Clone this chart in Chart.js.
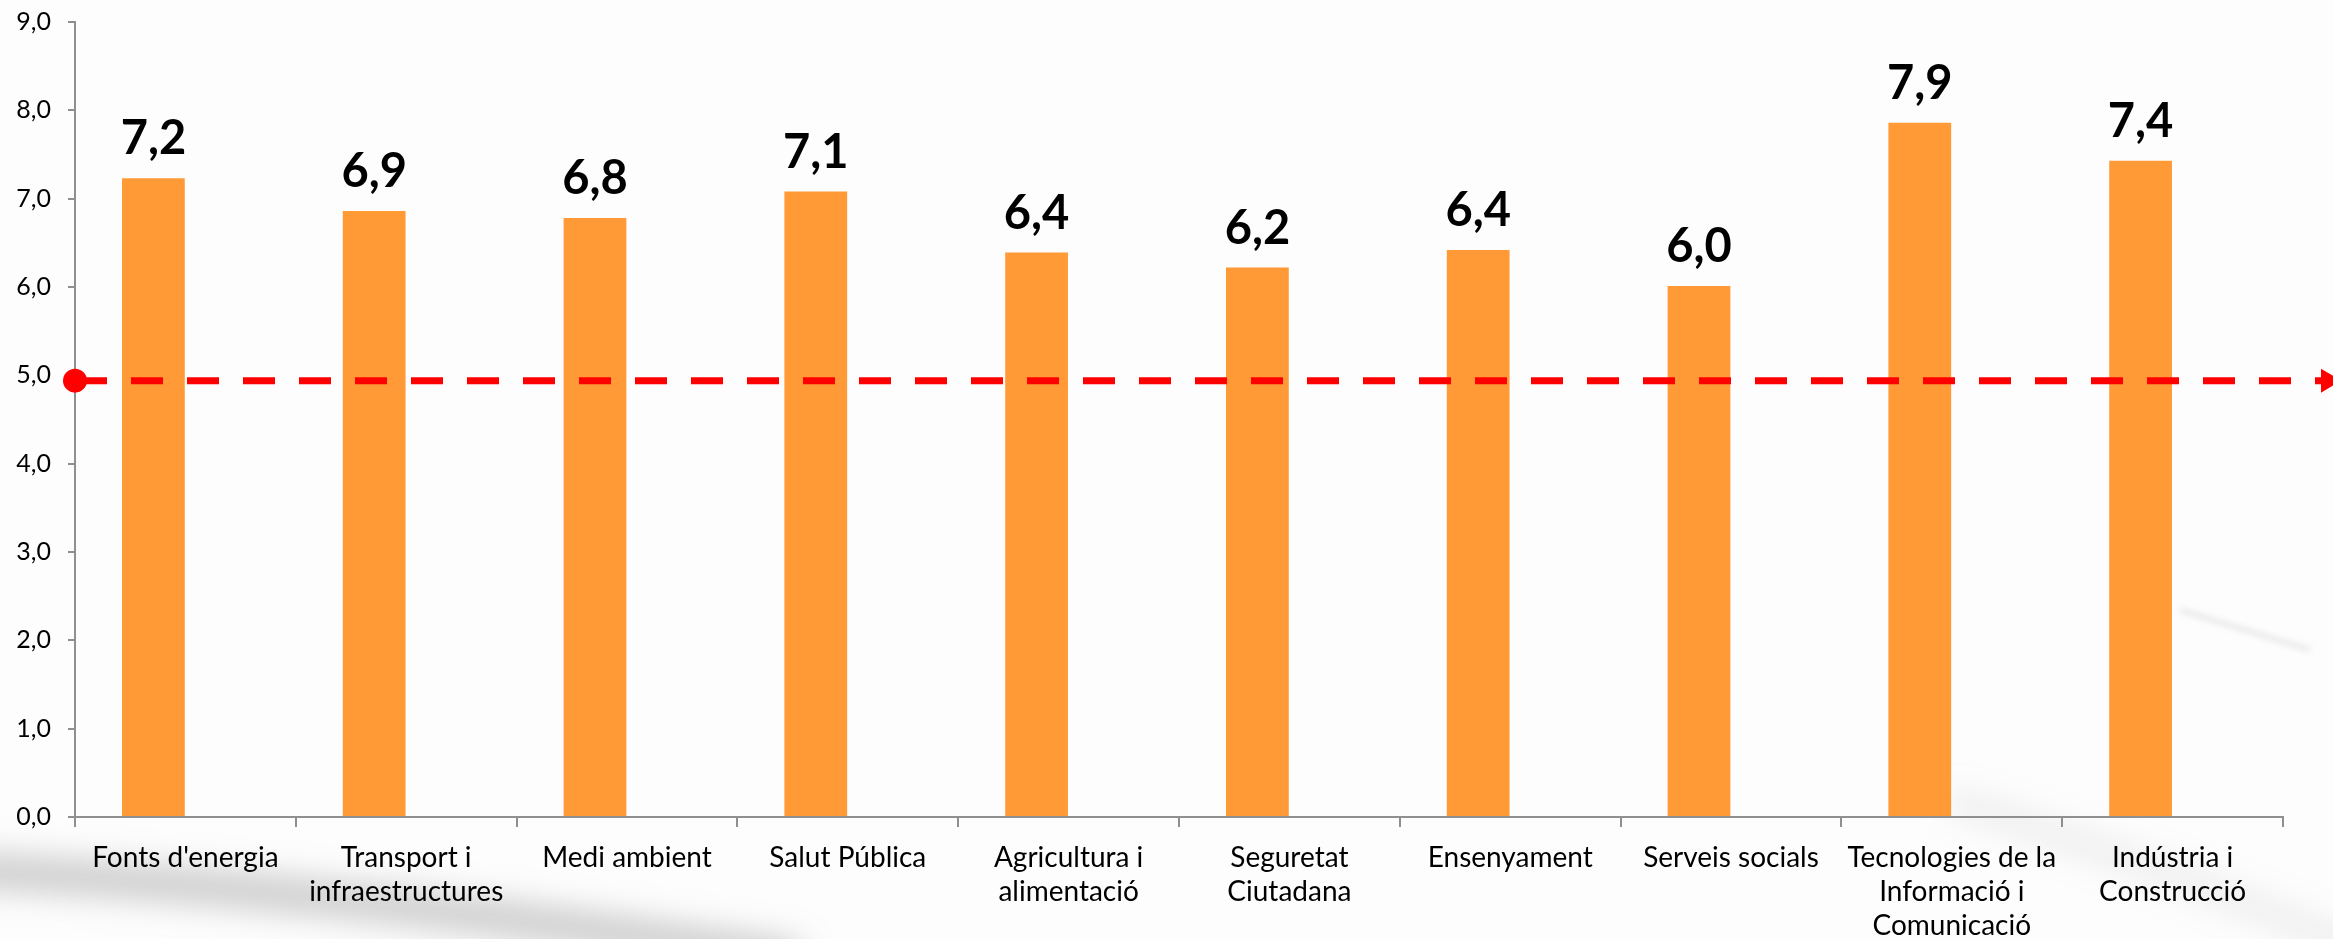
<!DOCTYPE html>
<html><head><meta charset="utf-8">
<script src="https://cdn.jsdelivr.net/npm/chart.js@4/dist/chart.umd.min.js"></script>
<style>html,body{margin:0;padding:0;background:#fff;overflow:hidden}canvas{display:block}</style>
</head><body>
<canvas id="c" width="2333" height="939"></canvas>
<script>
const categories = [
  ["Fonts d'energia"],
  ["Transport i", "infraestructures"],
  ["Medi ambient"],
  ["Salut Pública"],
  ["Agricultura i", "alimentació"],
  ["Seguretat", "Ciutadana"],
  ["Ensenyament"],
  ["Serveis socials"],
  ["Tecnologies de la", "Informació i", "Comunicació"],
  ["Indústria i", "Construcció"]
];
const scores = [7.23, 6.86, 6.78, 7.08, 6.39, 6.22, 6.42, 6.01, 7.86, 7.43];
const emptySeries = [null, null, null, null, null, null, null, null, null, null];
const referenceValue = 4.94;
const yMin = 0;
const yMax = 9;
const yStep = 1;

const fmt = v => v.toFixed(1).replace('.', ',');

const overlay = {
  id: 'overlay',
  beforeDraw(chart) {
    const { ctx, width, height } = chart;
    ctx.save();
    ctx.fillStyle = '#fdfdfd';
    ctx.fillRect(0, 0, width, height);
    ctx.filter = 'blur(16px)';
    ctx.strokeStyle = 'rgba(110,110,110,0.35)';
    ctx.lineWidth = 34;
    ctx.beginPath();
    ctx.moveTo(-40, 870); ctx.quadraticCurveTo(350, 890, 800, 960); ctx.stroke();
    ctx.strokeStyle = 'rgba(140,140,140,0.18)';
    ctx.lineWidth = 20;
    ctx.beginPath();
    ctx.moveTo(1950, 800); ctx.quadraticCurveTo(2200, 880, 2360, 950); ctx.stroke();
    ctx.filter = 'blur(3px)';
    ctx.strokeStyle = 'rgba(150,150,150,0.25)';
    ctx.lineWidth = 4;
    ctx.beginPath();
    ctx.moveTo(2180, 610); ctx.lineTo(2310, 650); ctx.stroke();
    ctx.filter = 'none';
    ctx.restore();
  },
  afterDatasetsDraw(chart) {
    const ctx = chart.ctx;
    const meta = chart.getDatasetMeta(0);
    ctx.save();
    ctx.font = 'bold 47px Lato';
    ctx.fillStyle = '#000';
    ctx.textAlign = 'center';
    ctx.textBaseline = 'alphabetic';
    meta.data.forEach((bar, i) => {
      ctx.fillText(fmt(scores[i]), bar.x, bar.y - 24);
    });
    const y = chart.scales.y.getPixelForValue(referenceValue);
    const x0 = chart.chartArea.left;
    const xEnd = chart.width;
    ctx.strokeStyle = '#ff0000';
    ctx.fillStyle = '#ff0000';
    ctx.lineWidth = 7;
    ctx.setLineDash([32, 24]);
    ctx.beginPath();
    ctx.moveTo(x0, y);
    ctx.lineTo(xEnd - 18, y);
    ctx.stroke();
    ctx.setLineDash([]);
    ctx.beginPath();
    ctx.moveTo(xEnd - 18, y - 3.5);
    ctx.lineTo(xEnd - 12, y - 3.5);
    ctx.lineTo(xEnd - 12, y - 12);
    ctx.lineTo(xEnd + 8, y);
    ctx.lineTo(xEnd - 12, y + 12);
    ctx.lineTo(xEnd - 12, y + 3.5);
    ctx.lineTo(xEnd - 18, y + 3.5);
    ctx.closePath();
    ctx.fill();
    ctx.beginPath();
    ctx.arc(x0, y, 12, 0, Math.PI * 2);
    ctx.fill();
    ctx.restore();
  }
};

Chart.defaults.font.family = 'Lato';
Chart.defaults.color = '#000';

new Chart(document.getElementById('c'), {
  type: 'bar',
  data: {
    labels: categories,
    datasets: [
      { label: 'Valoració', data: scores, backgroundColor: '#FF9A36', borderWidth: 0, categoryPercentage: 0.58, barPercentage: 0.98 },
      { label: '', data: emptySeries, backgroundColor: 'rgba(0,0,0,0)', categoryPercentage: 0.58, barPercentage: 0.98 }
    ]
  },
  options: {
    responsive: false,
    animation: false,
    devicePixelRatio: 1,
    layout: { padding: { left: 0, right: 50, top: 22, bottom: 0 } },
    plugins: { legend: { display: false }, tooltip: { enabled: false } },
    scales: {
      x: {
        offset: true,
        grid: { display: true, drawOnChartArea: false, drawTicks: true, tickLength: 10, color: '#8f8f8f', lineWidth: 2, offset: true },
        border: { display: true, color: '#8f8f8f', width: 2 },
        ticks: { autoSkip: false, maxRotation: 0, minRotation: 0, padding: 14, font: { size: 28, lineHeight: 1.22 }, color: '#000' },
        afterFit(s) { s.height = 122; s.paddingLeft = 0; s.paddingRight = 0; }
      },
      y: {
        min: yMin, max: yMax,
        grid: { display: true, drawOnChartArea: false, drawTicks: true, tickLength: 7, color: '#8f8f8f', lineWidth: 2 },
        border: { display: true, color: '#8f8f8f', width: 2 },
        ticks: { stepSize: yStep, padding: 17, font: { size: 25 }, color: '#000', callback: v => fmt(v) },
        afterFit(s) { s.width = 75; s.paddingTop = 0; s.paddingBottom = 0; }
      }
    }
  },
  plugins: [overlay]
});
</script>
</body></html>
